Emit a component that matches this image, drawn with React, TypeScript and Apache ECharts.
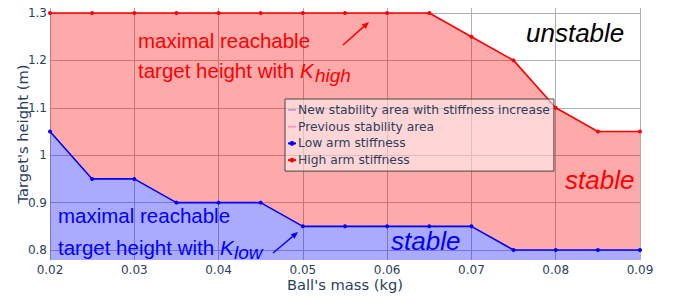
import React, { useEffect, useRef } from "react";
import * as echarts from "echarts";

// Ball mass (kg) — category positions on the x axis
const massKg = [
  "0.02", "0.025", "0.03", "0.035", "0.04", "0.045", "0.05", "0.055",
  "0.06", "0.065", "0.07", "0.075", "0.08", "0.085", "0.09",
];
// Maximal reachable target height (m) with low arm stiffness
const lowStiffnessHeight = [
  1.05, 0.95, 0.95, 0.9, 0.9, 0.9, 0.85, 0.85, 0.85, 0.85, 0.85, 0.8, 0.8, 0.8, 0.8,
];
// Maximal reachable target height (m) with high arm stiffness
const highStiffnessHeight = [
  1.3, 1.3, 1.3, 1.3, 1.3, 1.3, 1.3, 1.3, 1.3, 1.3, 1.25, 1.2, 1.1, 1.05, 1.05,
];
const seriesNames = [
  "New stability area with stiffness increase",
  "Previous stability area",
  "Low arm stiffness",
  "High arm stiffness",
];

const TXT = "#2a3f5f";
const UI_FONT = '"DejaVu Sans", Verdana, sans-serif';
const ANN_FONT = '"Liberation Sans", Arial, sans-serif';

export default function App() {
  const ref = useRef<HTMLDivElement>(null);

  useEffect(() => {
    if (!ref.current) return;
    const chart = echarts.init(ref.current, null, { renderer: "svg" });
    const gainArea = highStiffnessHeight.map((h, i) => +(h - lowStiffnessHeight[i]).toFixed(4));

    const ann = (text: string, x: number, y: number, fill: string, size: number, italic = false) => ({
      type: "text",
      x,
      y,
      z: 100,
      style: {
        text,
        fill,
        fontSize: size,
        fontFamily: ANN_FONT,
        fontStyle: italic ? "italic" : "normal",
        align: "left",
        verticalAlign: "middle",
      },
    });
    const arrow = (x1: number, y1: number, x2: number, y2: number, color: string) => {
      const dx = x2 - x1, dy = y2 - y1;
      const len = Math.sqrt(dx * dx + dy * dy);
      const ux = dx / len, uy = dy / len;
      const hl = 7, hw = 3;
      const bx = x2 - ux * hl, by = y2 - uy * hl;
      return [
        { type: "line", z: 100, shape: { x1, y1, x2: bx, y2: by }, style: { stroke: color, lineWidth: 1.5 } },
        {
          type: "polygon",
          z: 100,
          shape: { points: [[x2, y2], [bx - uy * hw, by + ux * hw], [bx + uy * hw, by - ux * hw]] },
          style: { fill: color },
        },
      ];
    };

    chart.setOption({
      animation: false,
      backgroundColor: "#ffffff",
      grid: { left: 50, right: 38, top: 8, bottom: 37, containLabel: false, outerBoundsMode: "none" },
      xAxis: {
        type: "category",
        data: massKg,
        boundaryGap: false,
        name: "Ball's mass (kg)",
        nameLocation: "middle",
        nameGap: 17,
        nameMoveOverlap: false,
        nameTextStyle: { color: TXT, fontSize: 14.7, fontFamily: UI_FONT },
        axisLine: { show: false },
        axisTick: { show: false },
        axisLabel: { interval: 1, color: TXT, fontSize: 12, fontFamily: UI_FONT, margin: 4 },
        splitLine: { show: true, interval: 1, lineStyle: { color: "#b0b0b0", width: 1 } },
      },
      yAxis: {
        type: "value",
        min: 0.779,
        max: 1.3105,
        name: "Target's height (m)",
        nameLocation: "middle",
        nameGap: 20,
        nameMoveOverlap: false,
        nameTextStyle: { color: TXT, fontSize: 14.7, fontFamily: UI_FONT },
        axisLine: { show: false },
        axisTick: { show: false },
        axisLabel: { color: TXT, fontSize: 12, fontFamily: UI_FONT, margin: 3, showMinLabel: false, showMaxLabel: false },
        splitLine: { show: true, showMinLine: false, showMaxLine: false, lineStyle: { color: "#b0b0b0", width: 1 } },
      },
      legend: {
        orient: "vertical",
        left: 285,
        top: 99,
        padding: [4, 4, 4, 2],
        itemGap: 2.7,
        itemWidth: 8,
        itemHeight: 6,
        backgroundColor: "rgba(255,255,255,0.5)",
        borderColor: "#444444",
        borderWidth: 1,
        selectedMode: false,
        textStyle: { color: TXT, fontSize: 12.3, fontFamily: UI_FONT, lineHeight: 14, padding: [0, 0, 0, -3] },
        data: [
          { name: seriesNames[0], itemStyle: { opacity: 0 }, lineStyle: { color: "#c9a0d8", width: 2 } },
          { name: seriesNames[1], itemStyle: { opacity: 0 }, lineStyle: { color: "#e8a0c0", width: 2 } },
          { name: seriesNames[2] },
          { name: seriesNames[3] },
        ],
      },
      series: [
        {
          name: seriesNames[1],
          type: "line",
          stack: "stability",
          data: lowStiffnessHeight,
          symbol: "none",
          color: "#e8a0c0",
          lineStyle: { width: 0 },
          areaStyle: { color: "rgba(0,0,255,0.333)", opacity: 1, origin: "start" },
          z: 1,
        },
        {
          name: seriesNames[0],
          type: "line",
          stack: "stability",
          data: gainArea,
          symbol: "none",
          color: "#c9a0d8",
          lineStyle: { width: 0 },
          areaStyle: { color: "rgba(255,0,0,0.333)", opacity: 1 },
          z: 1,
        },
        {
          name: seriesNames[2],
          type: "line",
          data: lowStiffnessHeight,
          color: "#0000ff",
          symbol: "circle",
          symbolSize: 4,
          lineStyle: { width: 1.6, color: "#0000ff" },
          itemStyle: { color: "#0000ff" },
          z: 3,
        },
        {
          name: seriesNames[3],
          type: "line",
          data: highStiffnessHeight,
          color: "#ff0000",
          symbol: "circle",
          symbolSize: 4,
          lineStyle: { width: 1.6, color: "#ff0000" },
          itemStyle: { color: "#ff0000" },
          z: 3,
        },
      ],
      graphic: [
        ann("maximal reachable", 138, 40, "#ff0000", 20.5),
        ann("target height with ", 138, 70, "#ff0000", 20.5),
        ann("K", 300, 70, "#ff0000", 20.5, true),
        ann("high", 315, 75, "#ff0000", 19, true),
        ...arrow(343, 45, 369, 22, "#ff0000"),
        ann("maximal reachable", 58, 215, "#0000ff", 20.5),
        ann("target height with ", 58, 247, "#0000ff", 20.5),
        ann("K", 220, 247, "#0000ff", 20.5, true),
        ann("low", 234, 252, "#0000ff", 19, true),
        ...arrow(273, 253, 298, 232, "#0000ff"),
        ann("unstable", 526, 33, "#000000", 26, true),
        ann("stable", 565, 180, "#ff0000", 26, true),
        ann("stable", 391, 241, "#0000ff", 26, true),
      ],
    });

    return () => chart.dispose();
  }, []);

  return (
    <div
      ref={ref}
      style={{ position: "fixed", left: 0, top: 0, width: 678, height: 297, background: "#ffffff" }}
    />
  );
}
